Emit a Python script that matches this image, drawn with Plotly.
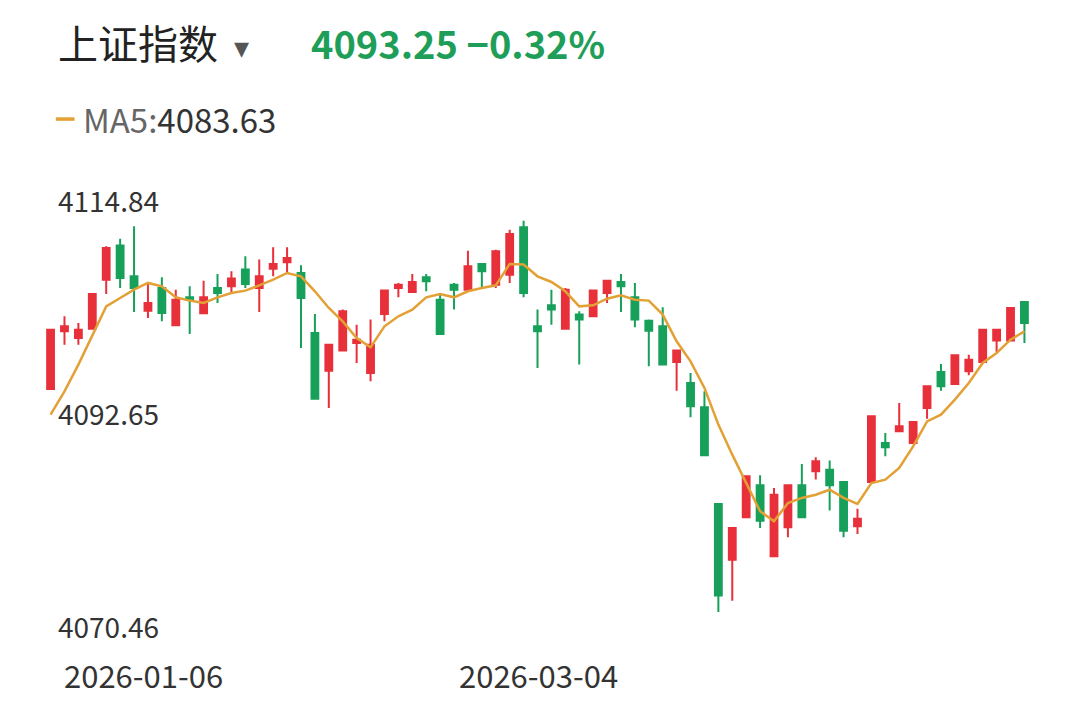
import plotly.graph_objects as go

# 日K数据（从图中读取，红涨绿跌）
idx = list(range(71))
opens = [4095.15, 4101.16, 4100.47, 4101.44, 4106.54, 4110.09, 4106.89, 4103.31, 4105.67, 4101.79,
         4104.70, 4103.04, 4105.67, 4105.85, 4107.59, 4105.67, 4107.69, 4108.35, 4107.24, 4100.99,
         4097.06, 4099.15, 4099.94, 4096.82, 4102.97, 4105.67, 4105.26, 4106.79, 4104.46, 4106.02,
         4105.50, 4108.18, 4106.02, 4107.06, 4112.00, 4101.68, 4103.87, 4101.44, 4102.90, 4102.72,
         4105.15, 4106.30, 4104.70, 4102.27, 4101.68, 4097.97, 4095.78, 4093.24, 4083.17, 4077.37,
         4081.78, 4085.12, 4077.72, 4080.74, 4085.12, 4086.57, 4086.75, 4085.46, 4080.84, 4085.46,
         4089.53, 4090.74, 4089.53, 4093.17, 4096.92, 4095.67, 4096.99, 4097.97, 4100.19, 4100.19,
         4104.22]
highs = [4101.33, 4102.72, 4102.03, 4105.05, 4110.02, 4110.81, 4112.10, 4106.20, 4106.79, 4105.50,
         4105.85, 4106.44, 4107.13, 4107.41, 4108.97, 4108.63, 4109.91, 4109.91, 4108.04, 4102.97,
         4099.77, 4103.42, 4101.85, 4102.38, 4105.40, 4106.20, 4107.13, 4107.13, 4105.15, 4106.20,
         4109.56, 4108.28, 4109.67, 4111.75, 4112.69, 4103.42, 4105.50, 4105.67, 4103.24, 4105.40,
         4106.54, 4107.13, 4106.20, 4102.38, 4103.66, 4099.25, 4096.82, 4094.91, 4083.17, 4080.67,
         4086.05, 4086.16, 4084.84, 4085.12, 4087.34, 4088.03, 4087.69, 4085.46, 4082.68, 4092.30,
         4090.57, 4093.69, 4091.71, 4095.43, 4097.76, 4098.66, 4098.73, 4101.33, 4101.44, 4103.59,
         4104.22]
lows = [4095.15, 4099.77, 4099.77, 4101.44, 4105.05, 4105.67, 4103.17, 4102.55, 4102.20, 4101.79,
        4100.88, 4103.04, 4104.11, 4105.05, 4105.67, 4103.17, 4106.89, 4107.24, 4099.42, 4094.04,
        4093.17, 4099.08, 4097.86, 4095.95, 4102.20, 4104.70, 4105.15, 4105.33, 4100.81, 4103.42,
        4105.33, 4105.67, 4105.67, 4106.20, 4104.70, 4097.34, 4101.85, 4101.44, 4097.69, 4102.72,
        4104.11, 4103.17, 4101.58, 4097.51, 4097.69, 4094.98, 4092.20, 4088.24, 4071.92, 4073.10,
        4081.78, 4080.67, 4077.72, 4079.70, 4081.78, 4085.71, 4082.48, 4079.70, 4080.04, 4085.46,
        4088.14, 4090.67, 4089.53, 4092.06, 4094.98, 4095.67, 4096.58, 4097.97, 4099.01, 4100.19,
        4099.94]
closes = [4101.33, 4101.68, 4101.33, 4105.05, 4109.84, 4106.72, 4105.67, 4104.11, 4103.07, 4104.46,
          4104.46, 4104.70, 4105.15, 4106.65, 4106.09, 4106.89, 4108.18, 4108.80, 4104.63, 4094.14,
          4099.77, 4103.24, 4100.29, 4099.77, 4105.40, 4106.02, 4106.30, 4106.37, 4100.88, 4105.50,
          4107.93, 4107.41, 4109.50, 4111.30, 4105.15, 4101.16, 4103.42, 4105.50, 4102.38, 4105.40,
          4106.44, 4105.85, 4102.38, 4101.23, 4097.69, 4099.15, 4093.35, 4088.24, 4073.65, 4080.67,
          4086.05, 4081.43, 4084.14, 4085.12, 4081.78, 4087.62, 4085.12, 4080.39, 4081.64, 4092.30,
          4089.07, 4091.26, 4091.71, 4095.43, 4095.43, 4098.66, 4098.21, 4101.33, 4101.33, 4103.59,
          4102.03]
ma5 = [4092.48, 4094.91, 4097.69, 4100.81, 4103.76, 4104.63, 4105.50, 4106.20, 4105.85, 4104.70,
       4104.36, 4104.11, 4104.70, 4105.15, 4105.40, 4105.95, 4106.54, 4107.24, 4106.89, 4105.33,
       4103.59, 4102.20, 4100.47, 4099.49, 4101.68, 4102.72, 4103.42, 4104.70, 4105.05, 4104.70,
       4105.33, 4105.67, 4105.95, 4108.18, 4108.11, 4106.89, 4106.30, 4105.33, 4103.76, 4103.87,
       4104.56, 4104.91, 4104.46, 4104.36, 4102.90, 4100.12, 4098.03, 4095.26, 4091.44, 4088.31,
       4085.36, 4082.41, 4081.36, 4083.27, 4083.80, 4084.14, 4084.66, 4083.80, 4083.17, 4085.36,
       4085.71, 4086.92, 4089.18, 4091.78, 4092.48, 4094.04, 4095.78, 4097.86, 4098.90, 4100.29,
       4101.16]

y_ticks = [4114.84, 4092.65, 4070.46]
date_labels = ["2026-01-06", "2026-03-04"]
date_pos = [6.7, 35.1]

RED = "#e8303a"
GREEN = "#17a05a"
ORANGE = "#e3a035"
FONT = "Noto Sans CJK SC, Noto Sans, sans-serif"

fig = go.Figure()
fig.add_trace(go.Candlestick(
    x=idx, open=opens, high=highs, low=lows, close=closes,
    increasing=dict(line=dict(color=RED, width=2), fillcolor=RED),
    decreasing=dict(line=dict(color=GREEN, width=2), fillcolor=GREEN),
    whiskerwidth=0, showlegend=False, hoverinfo="skip",
))
fig.add_trace(go.Scatter(
    x=idx, y=ma5, mode="lines", line=dict(color=ORANGE, width=2.5),
    showlegend=False, hoverinfo="skip",
))

annotations = []
for v in y_ticks:
    annotations.append(dict(
        xref="paper", yref="y", x=0.011, y=v, text=str(v), showarrow=False,
        xanchor="left", yanchor="middle", font=dict(size=28, color="#333333", family=FONT),
    ))
for d, p in zip(date_labels, date_pos):
    annotations.append(dict(
        xref="x", yref="paper", x=p, y=-0.113, text=d, showarrow=False,
        xanchor="center", yanchor="middle", font=dict(size=31, color="#333333", family=FONT),
    ))
# 标题与均线图例
annotations += [
    dict(xref="paper", yref="paper", x=0.011, y=1.37, text="上证指数", showarrow=False,
         xanchor="left", yanchor="middle", font=dict(size=40, color="#222222", family=FONT)),
    dict(xref="paper", yref="paper", x=0.19, y=1.365, text="▾", showarrow=False,
         xanchor="left", yanchor="middle", font=dict(size=30, color="#555555", family=FONT)),
    dict(xref="paper", yref="paper", x=0.268, y=1.37, text="<b>4093.25 −0.32%</b>", showarrow=False,
         xanchor="left", yanchor="middle", font=dict(size=38, color="#1e9e58", family=FONT)),
    dict(xref="paper", yref="paper", x=0.037, y=1.19,
         text="<span style='color:#666666'>MA5:</span>4083.63", showarrow=False,
         xanchor="left", yanchor="middle", font=dict(size=33, color="#333333", family=FONT)),
]

fig.update_layout(
    width=1080, height=720,
    margin=dict(l=37, r=58, t=192, b=102),
    paper_bgcolor="white", plot_bgcolor="white",
    xaxis=dict(range=[-0.4, 70.4], showgrid=False, showticklabels=False, zeroline=False,
               rangeslider=dict(visible=False)),
    yaxis=dict(range=[4070.46, 4114.84], showgrid=False, showticklabels=False, zeroline=False),
    annotations=annotations,
    shapes=[dict(type="line", xref="paper", yref="paper", x0=0.011, x1=0.03, y0=1.19, y1=1.19,
                 line=dict(color=ORANGE, width=3.5))],
)

fig.write_html("out.html")
